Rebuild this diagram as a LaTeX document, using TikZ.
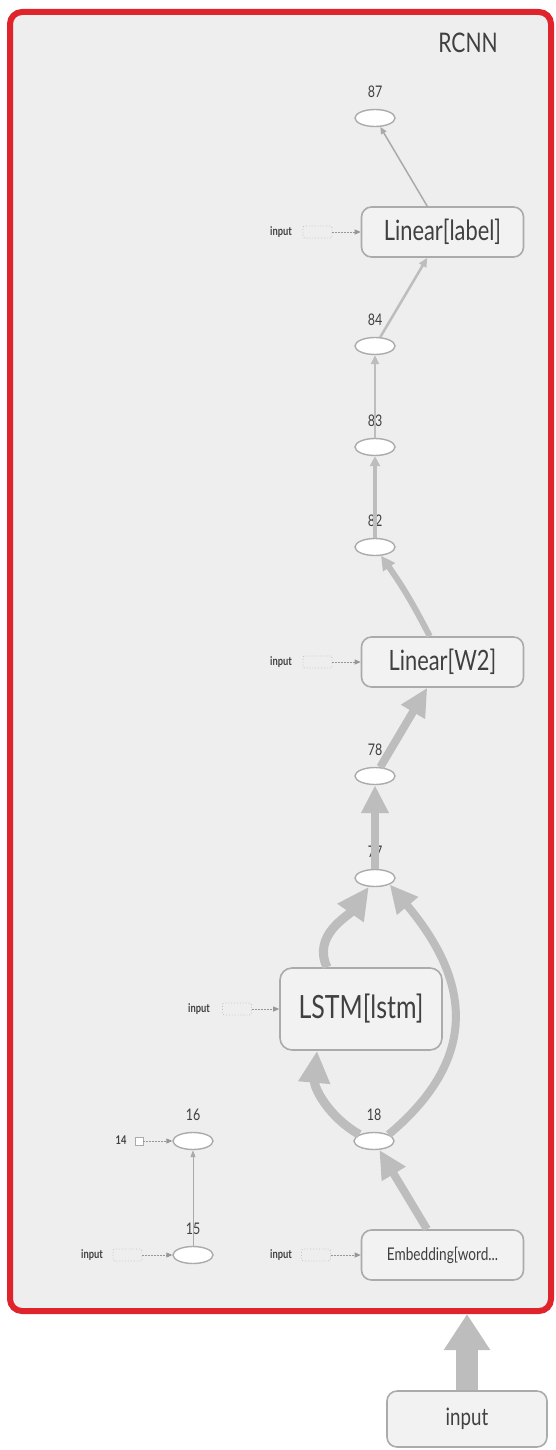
\documentclass[tikz,border=0pt]{standalone}
\usepackage{fontspec}
\setmainfont{Lato}[FakeStretch=0.78]
\usetikzlibrary{arrows.meta,shapes.geometric}
\definecolor{bgc}{HTML}{EEEEEE}
\definecolor{redc}{HTML}{E0242C}
\definecolor{edgec}{HTML}{BDBDBD}
\definecolor{boxc}{HTML}{ABABAB}
\definecolor{boxf}{HTML}{F2F2F2}
\definecolor{txt}{HTML}{404040}
\definecolor{dotc}{HTML}{C4C4C4}
\begin{document}
\begin{tikzpicture}[x=1pt,y=1pt,
  opbox/.style={draw=boxc, line width=1.6pt, fill=boxf, rounded corners=10pt, text=txt, inner sep=0pt, minimum width=162pt, minimum height=50pt},
  ell/.style={ellipse, draw=boxc, line width=1.4pt, fill=white, minimum width=40pt, minimum height=17pt, inner sep=0pt,
     label={[numlab]90:#1}},
  numlab/.style={font=\fontsize{16}{16}\selectfont, text=txt, inner sep=0pt, label distance=11pt},
  inlab/.style={font=\bfseries\fontsize{12}{12}\selectfont, text=txt, inner sep=0pt},
  dotbox/.style={draw=dotc, dotted, line width=0.9pt, rounded corners=2pt, minimum width=29pt, minimum height=12pt, inner sep=0pt},
  thinarr/.style={draw=edgec!80!black, line width=0.9pt, dash pattern=on 2pt off 1pt, -{Triangle[width=5pt,length=6pt]}},
  ea/.style={draw=edgec!90!black, line width=1.5pt, -{Triangle[width=6pt,length=7pt]}},
  eb/.style={draw=edgec, line width=2.5pt, -{Triangle[width=8pt,length=9pt]}},
  ec/.style={draw=edgec, line width=4pt, -{Triangle[width=10pt,length=10pt]}},
  ed/.style={draw=edgec, line width=6pt, -{Triangle[width=14pt,length=14pt]}},
  ee/.style={draw=edgec, line width=8pt, -{Triangle[width=26pt,length=28pt]}},
  ef/.style={draw=edgec, line width=9pt, -{Triangle[width=30pt,length=32pt]}},
]
\path[use as bounding box] (0,0) rectangle (556,-1450);
% group box
\draw[redc, line width=6pt, fill=bgc, rounded corners=12pt] (10,-12) rectangle (551,-1311);
\node[font=\fontsize{27}{27}\selectfont, text=txt, inner sep=0pt] (title) at (468,-43) {RCNN};

% op nodes
\node[opbox, font=\fontsize{28}{28}\selectfont] (lab) at (442.5,-232) {Linear[label]};
\node[opbox, font=\fontsize{28}{28}\selectfont] (w2) at (442.5,-662) {Linear[W2]};
\node[opbox, font=\fontsize{32}{32}\selectfont, minimum height=82pt, rounded corners=12pt] (lstm) at (361,-1009) {LSTM[lstm]};
\node[opbox, font=\fontsize{17.5}{18}\selectfont] (emb) at (442.5,-1255) {Embedding[word...};
\node[opbox, font=\fontsize{24}{24}\selectfont, minimum width=160pt, minimum height=56pt] (inp) at (467,-1419) {input};

% ellipses
\node[ell=87] (n87) at (375,-118) {};
\node[ell=84] (n84) at (375,-346) {};
\node[ell=83] (n83) at (375,-447) {};
\node[ell=82] (n82) at (375,-547) {};
\node[ell=78] (n78) at (375,-776) {};
\node[ell=77] (n77) at (375,-878) {};
\node[ell=18] (n18) at (374,-1141) {};
\node[ell=16] (n16) at (193,-1141) {};
\node[ell=15] (n15) at (193,-1255) {};

% auxiliary inputs
\node[inlab] (i1) at (281,-232) {input};
\node[dotbox] (d1) at (317.5,-232) {};
\draw[thinarr] (d1) -- (lab);
\node[inlab] (i2) at (281,-662) {input};
\node[dotbox] (d2) at (317.5,-662) {};
\draw[thinarr] (d2) -- (w2);
\node[inlab] (i3) at (199,-1009) {input};
\node[dotbox] (d3) at (237,-1009) {};
\draw[thinarr] (d3) -- (lstm);
\node[inlab] (i4) at (281,-1255) {input};
\node[dotbox] (d4) at (316,-1255) {};
\draw[thinarr] (d4) -- (emb);
\node[inlab] (i5) at (92,-1255) {input};
\node[dotbox] (d5) at (127.5,-1255) {};
\draw[thinarr] (d5) -- (n15);
\node[inlab] (c14) at (121,-1140) {14};
\node[draw=boxc, line width=0.9pt, fill=white, minimum size=8pt, inner sep=0pt] (s14) at (139,-1141) {};
\draw[thinarr] (s14) -- (n16);
\draw[draw=edgec!90!black, line width=1pt, -{Triangle[width=5pt,length=7pt]}] (n15) -- (n16);

% main edges
\draw[ea] (lab) -- (n87);
\draw[eb] (n84) -- (lab);
\draw[eb] (n83) -- (n84);
\draw[ec] (n82) -- (n83);
\draw[ed] (w2) to[bend right=4] (n82);
\draw[ee] (n78) -- (w2);
\draw[ee] (n77) -- (n78);
\draw[ef] ([xshift=-34pt]lstm.north) to[out=115, in=235] (n77);
\draw[ee] (n18.north east) to[out=40, in=-50, looseness=1.25] (n77.south east);
\draw[ef] (n18.north west) to[out=150, in=265] ([xshift=-44pt]lstm.south);
\draw[ee] (emb) -- (n18);
\coordinate (gin) at (467,-1314);
\draw[draw=edgec, line width=22pt, -{Triangle[width=44pt,length=36pt]}] (inp) -- (gin);
\end{tikzpicture}
\end{document}
